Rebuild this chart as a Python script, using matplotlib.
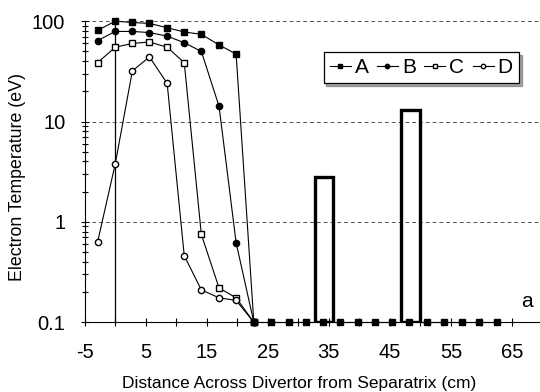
import numpy as np
import matplotlib
matplotlib.use("Agg")
import matplotlib.pyplot as plt
from matplotlib.ticker import FixedLocator, NullFormatter, LogLocator

plt.rcParams['font.family'] = ['Liberation Sans', 'DejaVu Sans']

# distance across divertor (cm)
x_in = [-2.9, 0.0, 2.8, 5.6, 8.5, 11.3, 14.1, 17.0, 19.8, 22.7]
x_out = [22.7, 25.5, 28.4, 31.2, 34.0, 36.9, 39.7, 42.6, 45.4, 48.2,
         51.1, 53.9, 56.8, 59.6, 62.5]

# electron temperature (eV)
te_a = [81, 100, 97, 95, 86, 78, 74, 58, 47, 0.1]
te_b = [64, 79, 79, 77, 71, 61, 50, 14.2, 0.62, 0.1]
te_c = [38.6, 55, 60, 62, 55, 38.6, 0.75, 0.22, 0.175, 0.1]
te_d = [0.63, 3.8, 32, 44, 24, 0.46, 0.21, 0.175, 0.165, 0.1]
te_floor = [0.1] * len(x_out)

# outlined bars
bar_x = [34.2, 48.4]
bar_w = [3.0, 3.0]
bar_top = [2.8, 13.0]

fig = plt.figure(figsize=(5.4, 3.92), dpi=100)
ax = fig.add_axes([0.157, 0.178, 0.843, 0.768])

ax.set_yscale('log')
ax.set_xlim(-5, 69.6)
ax.set_ylim(0.1, 100)

for y in [1, 10, 100]:
    ax.axhline(y, color='#555555', lw=0.7, ls=(0, (4, 3)), zorder=1)

ax.axvline(0, color='black', lw=0.9, zorder=2)

ax.bar(bar_x, np.array(bar_top) - 0.1, width=bar_w, bottom=0.1,
       fill=False, edgecolor='black', linewidth=2.4, zorder=3)

mk = dict(color='black', lw=0.8, markersize=4.5, clip_on=False, zorder=4)
ax.plot(x_in, te_a, marker='s', mfc='black', label='A', **mk)
ax.plot(x_in, te_b, marker='o', mfc='black', label='B', **mk)
ax.plot(x_in, te_c, marker='s', mfc='white', label='C', **mk)
ax.plot(x_in, te_d, marker='o', mfc='white', label='D', **mk)
ax.plot(x_out, te_floor, marker='s', mfc='black', **mk)

ax.spines['top'].set_visible(False)
ax.spines['right'].set_visible(False)

ax.xaxis.set_major_locator(FixedLocator(np.arange(-5, 70, 10)))
ax.xaxis.set_minor_locator(FixedLocator(np.arange(0, 70, 10)))
ax.set_xticklabels([str(v) for v in range(-5, 70, 10)])
ax.yaxis.set_major_locator(FixedLocator([0.1, 1, 10, 100]))
ax.set_yticklabels(['0.1', '1', '10', '100'])
ax.yaxis.set_minor_locator(LogLocator(base=10, subs=np.arange(2, 10)))
ax.yaxis.set_minor_formatter(NullFormatter())
ax.tick_params(which='both', direction='inout', labelsize=14.5, width=0.8)
ax.tick_params(which='major', length=6)
ax.tick_params(which='minor', length=4)
ax.tick_params(axis='x', which='minor', length=6)
ax.tick_params(axis='x', which='major', pad=12)
ax.tick_params(axis='y', which='major', pad=11)

ax.set_xlabel('Distance Across Divertor from Separatrix (cm)', fontsize=12.5)
ax.xaxis.set_label_coords(0.47, -0.18)
ax.set_ylabel('Electron Temperature (eV)', fontsize=12.8)
ax.yaxis.set_label_coords(-0.13, 0.483)

ax.text(0.985, 0.07, 'a', transform=ax.transAxes, fontsize=15,
        ha='right', va='center')

leg = ax.legend(ncol=4, loc='upper right', bbox_to_anchor=(0.977, 0.933),
                fontsize=15, frameon=True, fancybox=False, shadow=True,
                handlelength=1.0, handletextpad=0.2, columnspacing=0.4,
                borderpad=0.3, markerscale=0.7)
leg.get_frame().set_edgecolor('black')
leg.get_frame().set_linewidth(0.9)

fig.savefig('out.png', dpi=100)
